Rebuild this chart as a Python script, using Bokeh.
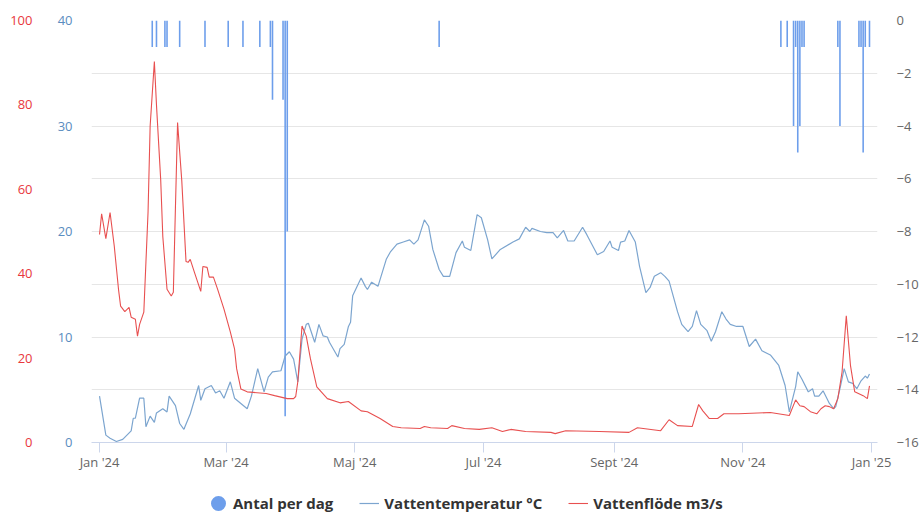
import pandas as pd
from bokeh.plotting import figure
from bokeh.layouts import column
from bokeh.models import Range1d, LinearAxis, FixedTicker, Legend, LegendItem
from bokeh.embed import file_html
from bokeh.resources import INLINE

year_start = pd.Timestamp("2024-01-01")

# Vattentemperatur (°C) – day of year 2024 and value
temp_day = [0, 3, 5, 8, 11, 13, 15, 16, 17, 19, 21, 22, 24, 26, 27, 30, 32, 33, 36, 38, 40, 43, 47, 48, 50,
            53, 55, 57, 59, 62, 64, 67, 70, 72, 75, 78, 80, 82, 86, 88, 90, 92, 94, 96, 98, 99, 102, 104,
            106, 108, 109, 113, 114, 116, 118, 119, 120, 124, 126, 127, 129, 132, 136, 138, 141, 144, 147,
            149, 151, 154, 156, 158, 161, 163, 166, 169, 172, 173, 176, 179, 181, 184, 186, 190, 196, 199,
            202, 204, 205, 209, 212, 215, 217, 220, 222, 225, 229, 231, 236, 239, 242, 243, 246, 247, 249,
            251, 254, 256, 259, 261, 263, 266, 268, 270, 274, 276, 279, 281, 283, 285, 288, 290, 292, 295,
            297, 299, 302, 305, 308, 311, 314, 318, 320, 322, 325, 327, 330, 331, 333, 336, 338, 339, 341,
            343, 346, 348, 349, 351, 353, 355, 357, 359, 361, 363, 364, 365]
temp_c = [4.4, 0.7, 0.4, 0.1, 0.3, 0.7, 1.1, 2.3, 2.3, 4.2, 4.2, 1.5, 2.5, 1.9, 2.8, 3.2, 2.9, 4.4, 3.5, 1.8,
          1.25, 2.7, 5.4, 4.0, 5.1, 5.4, 4.7, 4.9, 4.2, 5.75, 4.2, 3.7, 3.2, 4.4, 7.0, 4.8, 6.2, 6.7, 6.8,
          8.2, 8.6, 7.9, 5.75, 9.8, 11.2, 11.3, 9.5, 11.2, 10.1, 10.0, 9.5, 8.1, 8.9, 9.3, 11.0, 11.4, 13.9,
          15.6, 14.8, 14.5, 15.2, 14.8, 17.4, 18.1, 18.8, 19.0, 19.2, 18.8, 19.2, 21.1, 20.5, 18.3, 16.4,
          15.75, 15.75, 18.0, 19.1, 18.5, 18.2, 21.6, 21.3, 19.2, 17.4, 18.3, 19.0, 19.3, 20.4, 20.0, 20.3,
          20.0, 19.9, 19.9, 19.4, 20.1, 19.1, 19.1, 20.4, 19.7, 17.8, 18.1, 19.1, 18.5, 18.2, 19.0, 19.1,
          20.1, 19.0, 16.7, 14.2, 14.7, 15.75, 16.1, 15.75, 15.3, 12.4, 11.2, 10.5, 11.0, 12.5, 11.2, 10.6,
          9.6, 10.5, 12.4, 11.7, 11.2, 11.0, 11.0, 9.1, 9.8, 8.7, 8.3, 7.8, 7.3, 5.4, 2.9, 5.3, 6.7, 6.0,
          4.8, 5.1, 4.4, 4.4, 4.9, 3.7, 3.2, 3.4, 5.1, 7.0, 5.75, 5.6, 5.1, 5.85, 6.3, 6.1, 6.5]

# Vattenflöde (m3/s)
flow_day = [0, 1, 3, 5, 7, 9, 10, 12, 14, 15, 17, 18, 19, 21, 22, 23, 24, 26, 27, 29, 30, 32, 34, 35, 36, 37,
            39, 41, 42, 43, 45, 48, 49, 51, 52, 54, 56, 59, 62, 64, 65, 67, 70, 79, 83, 89, 92, 93, 94, 96,
            98, 100, 103, 108, 114, 118, 124, 127, 133, 139, 143, 152, 154, 157, 165, 167, 173, 180, 186,
            191, 195, 202, 214, 216, 221, 237, 251, 255, 266, 270, 274, 281, 284, 286, 289, 293, 296, 303,
            318, 327, 330, 332, 334, 337, 340, 342, 344, 346, 348, 350, 352, 354, 356, 358, 362, 364, 365]
flow_m3s = [49.3, 54.2, 48.3, 54.5, 46.5, 36.3, 32.3, 31.0, 32.0, 29.7, 29.2, 25.2, 28.0, 30.9, 42.7, 54.5,
            75.0, 90.3, 80.0, 62.3, 48.8, 36.3, 34.7, 35.6, 55.9, 75.8, 62.0, 42.9, 42.7, 43.4, 40.3, 35.8,
            41.7, 41.5, 39.2, 39.2, 36.3, 31.6, 26.2, 22.2, 17.5, 12.7, 12.0, 11.6, 11.1, 10.4, 10.4, 10.9,
            14.4, 27.6, 25.2, 19.8, 13.2, 10.4, 9.4, 9.7, 7.5, 7.3, 5.7, 3.8, 3.5, 3.3, 3.8, 3.5, 3.3, 4.0,
            3.3, 3.1, 3.5, 2.6, 3.1, 2.6, 2.4, 2.1, 2.8, 2.6, 2.4, 3.5, 2.8, 5.4, 4.0, 3.8, 9.0, 7.5, 5.7,
            5.7, 6.8, 6.8, 7.1, 6.4, 10.1, 8.7, 8.5, 7.3, 6.8, 8.0, 8.7, 8.5, 8.0, 10.4, 16.7, 30.0, 18.2,
            12.0, 11.1, 10.4, 13.4]

# Antal per dag
count_day = [25, 27, 31, 32, 38, 50, 61, 68, 76, 81, 82, 87, 88, 89, 161, 323, 326, 329, 330, 331, 332, 333,
             334, 350, 351, 360, 361, 362, 363, 365]
count_value = [-1, -1, -1, -1, -1, -1, -1, -1, -1, -1, -3, -3, -15, -8, -1, -1, -1, -4, -1, -5, -4, -1,
               -1, -1, -4, -1, -1, -5, -1, -1]

month_ticks = ["2024-01-01", "2024-03-01", "2024-05-01", "2024-07-01", "2024-09-01", "2024-11-01", "2025-01-01"]
month_labels = ["Jan '24", "Mar '24", "Maj '24", "Jul '24", "Sept '24", "Nov '24", "Jan '25"]
right_ticks = [0, -2, -4, -6, -8, -10, -12, -14, -16]
temp_ticks = [0, 10, 20, 30, 40]
flow_ticks = [0, 20, 40, 60, 80, 100]
legend_labels = ["Antal per dag", "Vattentemperatur °C", "Vattenflöde m3/s"]

FONT = "Open Sans"
BAR_C = "#6d9eeb"
TEMP_C = "#7ca5cf"
FLOW_C = "#e85050"


def to_dates(days):
    return year_start + pd.to_timedelta(days, unit="D")


def ms(ts):
    return pd.Timestamp(ts).value / 1e6


x_start = year_start - pd.Timedelta(days=3.8)
x_end = year_start + pd.Timedelta(days=368.8)

p = figure(width=921, height=473, x_axis_type="datetime",
           x_range=Range1d(ms(x_start), ms(x_end)), y_range=Range1d(-16, 0),
           y_axis_location="right", output_backend="svg", toolbar_location=None,
           min_border_left=91, min_border_right=43, min_border_top=20, min_border_bottom=29)
p.outline_line_color = None
p.extra_y_ranges = {"temp": Range1d(0, 40), "flow": Range1d(0, 100)}

p.vbar(x=to_dates(count_day), top=0, bottom=count_value, width=0.75 * 86400000,
       color=BAR_C, line_width=0)
p.line(to_dates(temp_day), temp_c, y_range_name="temp", color=TEMP_C, line_width=1.2)
p.line(to_dates(flow_day), flow_m3s, y_range_name="flow", color=FLOW_C, line_width=1.1)

# grid
p.xgrid.grid_line_color = None
p.ygrid.grid_line_color = "#e6e6e6"
p.ygrid.ticker = FixedTicker(ticks=right_ticks)

# x axis
xa = p.xaxis[0]
xa.ticker = FixedTicker(ticks=[ms(t) for t in month_ticks])
xa.major_label_overrides = {ms(t): lab for t, lab in zip(month_ticks, month_labels)}
xa.axis_line_color = "#ccd6eb"
xa.major_tick_line_color = "#ccd6eb"
xa.major_tick_out = 10
xa.major_tick_in = 0
xa.minor_tick_line_color = None
xa.minor_tick_out = 0
xa.major_label_standoff = 0
xa.major_label_text_font = FONT
xa.major_label_text_font_size = "13px"
xa.major_label_text_color = "#666666"

# right axis (Antal)
ya = p.yaxis[0]
ya.ticker = FixedTicker(ticks=right_ticks)
ya.major_label_overrides = {t: (str(t).replace("-", "\u2212")) for t in right_ticks}
ya.axis_line_color = None
ya.major_tick_line_color = None
ya.minor_tick_line_color = None
ya.major_tick_out = 0
ya.minor_tick_out = 0
ya.major_label_standoff = 19
ya.major_label_text_font = FONT
ya.major_label_text_font_size = "13px"
ya.major_label_text_color = "#666666"

# left axes
ax_t = LinearAxis(y_range_name="temp", ticker=FixedTicker(ticks=temp_ticks))
ax_f = LinearAxis(y_range_name="flow", ticker=FixedTicker(ticks=flow_ticks))
for ax, col, sd in ((ax_t, "#5a8dc0", 19), (ax_f, "#e8383d", 22)):
    ax.axis_line_color = None
    ax.major_tick_line_color = None
    ax.minor_tick_line_color = None
    ax.major_tick_out = 0
    ax.minor_tick_out = 0
    ax.major_label_standoff = sd
    ax.major_label_text_font = FONT
    ax.major_label_text_font_size = "13px"
    ax.major_label_text_color = col
p.add_layout(ax_t, "left")
p.add_layout(ax_f, "left")

# legend strip (separate figure so the legend is not clipped)
lg = figure(width=921, height=40, x_range=Range1d(0, 1), y_range=Range1d(0, 1),
            x_axis_location=None, y_axis_location=None, output_backend="svg",
            toolbar_location=None, min_border=0)
lg.outline_line_color = None
lg.grid.visible = False
# symbols placed outside the visible range: only their legend swatches show
g_bar = lg.scatter(x=[-5], y=[-5], marker="circle", size=8, fill_color=BAR_C, line_color=BAR_C,
                   line_width=7)
g_temp = lg.line(x=[-5, -4], y=[-5, -5], color=TEMP_C, line_width=1.2)
g_flow = lg.line(x=[-5, -4], y=[-5, -5], color=FLOW_C, line_width=1.1)
legend = Legend(items=[LegendItem(label=lab, renderers=[r])
                       for lab, r in zip(legend_labels, [g_bar, g_temp, g_flow])],
                orientation="horizontal", location=(117, 0), border_line_color=None,
                background_fill_alpha=0, label_text_font=FONT, label_text_font_style="bold",
                label_text_font_size="15px", label_text_color="#333333", padding=0, margin=0,
                glyph_width=20, glyph_height=20, label_height=20, label_standoff=5, spacing=26)
lg.add_layout(legend)

open("out.html", "w").write(file_html(column(p, lg, spacing=0), INLINE))
